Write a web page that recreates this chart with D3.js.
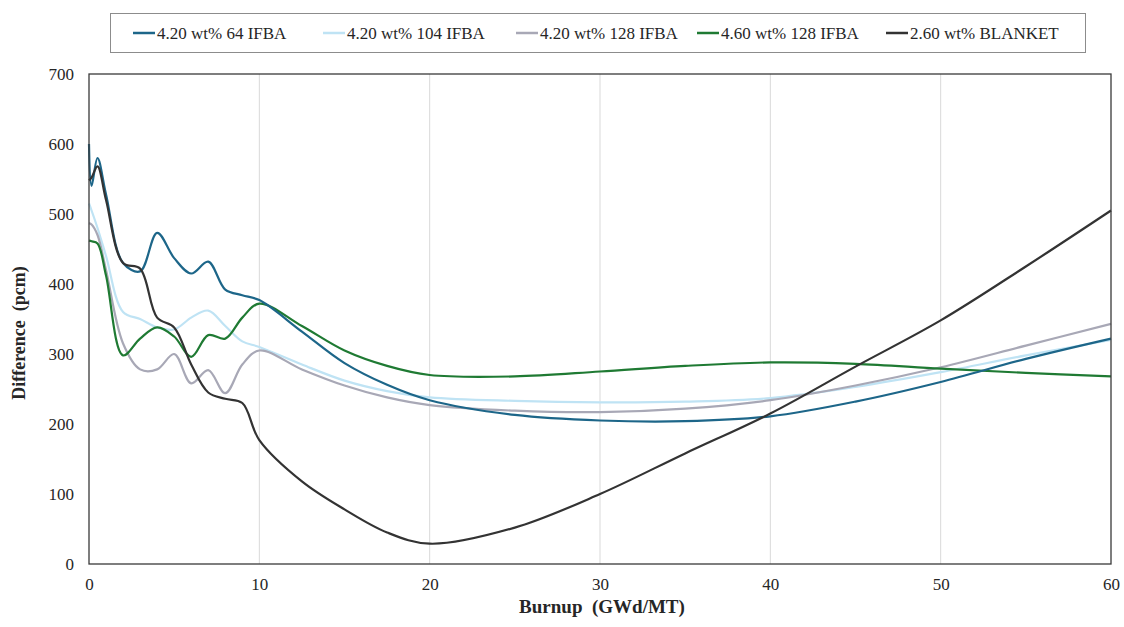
<!DOCTYPE html>
<html>
<head>
<meta charset="utf-8">
<script src="https://cdn.jsdelivr.net/npm/d3@7"></script>
<style>
  html, body { margin: 0; padding: 0; background: #fff; }
  svg { display: block; }
  text { font-family: "Liberation Serif", "Times New Roman", serif; fill: #262626; }
</style>
</head>
<body>
<svg id="chart" width="1124" height="627"></svg>
<script>
// ---- data ----
const burnup = [0, 0.15, 0.5, 1, 2, 3, 4, 5, 6, 7, 8, 9, 10, 12.5, 15, 17.5, 20, 25, 30, 35, 40, 45, 50, 55, 60];
const seriesNames = ["4.20 wt% 64 IFBA", "4.20 wt% 104 IFBA", "4.20 wt% 128 IFBA", "4.60 wt% 128 IFBA", "2.60 wt% BLANKET"];
const ifba64  = [600, 540, 580, 528, 430, 418, 473, 437, 415, 432, 392, 384, 377, 332, 287, 256, 234, 213, 205, 204, 211, 232, 260, 293, 322];
const ifba104 = [515, 505, 480, 440, 360, 350, 338, 335, 352, 362, 340, 318, 310, 285, 262, 247, 238, 233, 231, 232, 237, 253, 274, 298, 320];
const ifba128 = [487, 485, 470, 420, 315, 278, 278, 300, 258, 277, 244, 285, 305, 278, 255, 238, 227, 219, 217, 222, 234, 255, 281, 312, 343];
const enr460  = [462, 461, 458, 412, 298, 322, 338, 325, 296, 327, 322, 352, 372, 340, 305, 283, 270, 268, 275, 283, 288, 286, 279, 273, 268];
const blanket = [548, 552, 568, 520, 430, 422, 352, 338, 285, 245, 236, 230, 177, 118, 78, 45, 29, 52, 100, 158, 215, 282, 348, 425, 505];
const xTicks = [0, 10, 20, 30, 40, 50, 60];
const yTicks = [0, 100, 200, 300, 400, 500, 600, 700];
const colors = ["#1d6689", "#bfe3f4", "#a8a8b6", "#1f7a33", "#333333"];

// ---- layout ----
const svg = d3.select("#chart");
const plot = { left: 89, right: 1111, top: 74, bottom: 564 };
const x = d3.scaleLinear().domain([0, 60]).range([plot.left, plot.right]);
const y = d3.scaleLinear().domain([0, 700]).range([plot.bottom, plot.top]);

// gridlines (vertical)
svg.append("g").selectAll("line").data(xTicks.filter(t => t > 0 && t < 60)).join("line")
  .attr("x1", d => x(d)).attr("x2", d => x(d))
  .attr("y1", plot.top).attr("y2", plot.bottom)
  .attr("stroke", "#d9d9d9").attr("stroke-width", 1);

// axes
const xAxis = d3.axisBottom(x).tickValues(xTicks).tickSize(0).tickPadding(14);
const yAxis = d3.axisLeft(y).tickValues(yTicks).tickSize(0).tickPadding(15);
const gx = svg.append("g").attr("transform", `translate(0,${plot.bottom})`).call(xAxis);
const gy = svg.append("g").attr("transform", `translate(${plot.left},0)`).call(yAxis);
[gx, gy].forEach(g => {
  g.select(".domain").remove();
  g.selectAll("text").style("font-family", "Liberation Serif, serif").style("font-size", "17px").attr("fill", "#262626");
});

// series
const allSeries = [ifba64, ifba104, ifba128, enr460, blanket];
const line = d3.line().x((d, i) => x(burnup[i])).y(d => y(d)).curve(d3.curveCatmullRom.alpha(0.5));
const drawOrder = [1, 2, 3, 0, 4];
svg.append("g").selectAll("path").data(drawOrder).join("path")
  .attr("d", k => line(allSeries[k]))
  .attr("fill", "none")
  .attr("stroke", k => colors[k])
  .attr("stroke-width", 2.2)
  .attr("stroke-linejoin", "round");

// plot border
svg.append("rect")
  .attr("x", plot.left).attr("y", plot.top)
  .attr("width", plot.right - plot.left).attr("height", plot.bottom - plot.top)
  .attr("fill", "none").attr("stroke", "#3a3a3a").attr("stroke-width", 1.3);

// axis titles
svg.append("text").attr("x", (plot.left + plot.right) / 2 + 2).attr("y", 613)
  .attr("text-anchor", "middle").style("font-size", "19px").style("font-weight", "bold")
  .style("white-space", "pre")
  .text("Burnup  (GWd/MT)");
svg.append("text").attr("transform", `translate(25,${(plot.top + plot.bottom) / 2 + 14}) rotate(-90)`)
  .attr("text-anchor", "middle").style("font-size", "18px").style("font-weight", "bold")
  .style("white-space", "pre")
  .text("Difference  (pcm)");

// legend
const legend = svg.append("g");
legend.append("rect").attr("x", 110.5).attr("y", 13.5).attr("width", 975).attr("height", 39)
  .attr("fill", "#fff").attr("stroke", "#8c8c8c").attr("stroke-width", 1);
const legX = [133, 323, 516, 697, 886];
const items = legend.selectAll("g.item").data(seriesNames).join("g").attr("class", "item")
  .attr("transform", (d, i) => `translate(${legX[i]},33)`);
items.append("line").attr("x1", 0).attr("x2", 22).attr("y1", 0).attr("y2", 0)
  .attr("stroke", (d, i) => colors[i]).attr("stroke-width", 2.5);
items.append("text").attr("x", 24).attr("y", 5.5).style("font-size", "17px").text(d => d);
</script>
</body>
</html>
